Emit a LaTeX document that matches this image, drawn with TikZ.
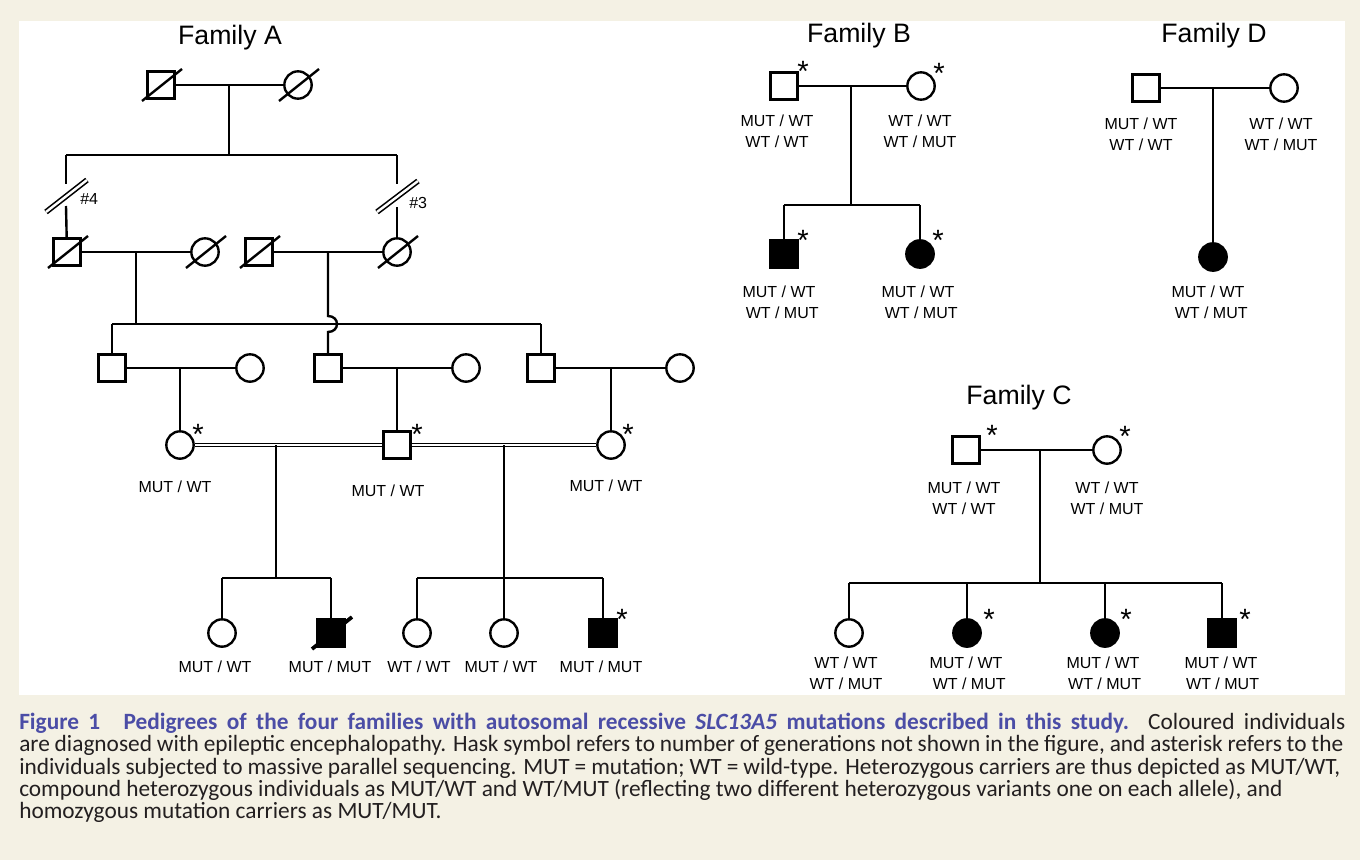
\documentclass[tikz,border=0pt]{standalone}
\usepackage{fontspec}
\setmainfont{Liberation Sans}
\newfontfamily\capfont{Carlito}
\usetikzlibrary{calc}
\definecolor{bgbeige}{HTML}{F4F1E4}
\definecolor{capblue}{HTML}{4B4DA6}
\definecolor{captext}{HTML}{231F20}
\tikzset{
  pbase/.style={draw=black, line width=1.8pt, inner sep=0pt, fill=white},
  male/.style={pbase, rectangle, minimum size=20pt},
  female/.style={pbase, circle, minimum size=20.5pt},
  aff/.style={fill=black},
  conn/.style={line width=1.8pt},
  consang/.style={double, double distance=1.5pt, line width=1.1pt},
  hashmark/.style={double, double distance=1.8pt, line width=1.2pt},
  geno/.style={font=\fontsize{12}{15.75}\selectfont, align=center, inner sep=0pt},
  hlabel/.style={font=\fontsize{12}{14}\selectfont, inner sep=0pt, anchor=west},
  ftitle/.style={font=\fontsize{20}{24}\selectfont, inner sep=0pt},
  ast/.style={font=\fontsize{22}{22}\selectfont, inner sep=0pt, anchor=base, yshift=-13pt},
  capline/.style={font=\capfont\fontsize{17.5}{19}\selectfont, anchor=base west, inner sep=0pt, text=captext},
}
\newcommand{\deceased}[2][1.8pt]{\draw[line width=#1] ($(#2.center)+(-19,16)$) -- ($(#2.center)+(21,-16)$);}
\begin{document}
\begin{tikzpicture}[x=0.75pt, y=-0.75pt]
\useasboundingbox (0,0) rectangle (1360,860);
\fill[bgbeige] (0,0) rectangle (1360,860);
\fill[white] (19,21) rectangle (1345,695);

% ---------------- Family A ----------------
\node[ftitle] (tA) at (230,38) {Family A};
\node[male] (A1) at (161,85) {};
\node[female] (A2) at (298,85) {};
\coordinate (mA1) at (229,85);
\coordinate (sA1) at (229,155);
\coordinate (sA1l) at (66,155);
\coordinate (sA1r) at (397,155);
\draw[conn] (A1) -- (A2);
\draw[conn] (mA1) -- (sA1);
\draw[conn] (sA1l) -- (sA1r);
\deceased{A1}
\deceased{A2}

% hashed lines
\coordinate (h4a) at (66,184); \coordinate (h4b) at (66,206);
\coordinate (h3a) at (397,184); \coordinate (h3b) at (397,207);
\coordinate (h4c1) at (46,212); \coordinate (h4c2) at (87,180);
\coordinate (h3c1) at (377,212); \coordinate (h3c2) at (418,181);
\draw[hashmark] (h4c1) -- (h4c2);
\draw[hashmark] (h3c1) -- (h3c2);
\node[hlabel] (h4t) at (80,199) {\#4};
\node[hlabel] (h3t) at (409,203) {\#3};

% generation II
\node[male] (A3) at (67,252) {};
\node[female] (A4) at (205,252) {};
\node[male] (A5) at (259,252) {};
\node[female] (A6) at (397,252) {};
\draw[conn] (sA1l) -- (h4a);
\draw[conn] (h4b) -- (A3);
\draw[conn] (sA1r) -- (h3a);
\draw[conn] (h3b) -- (A6);
\draw[conn] (A3) -- (A4);
\draw[conn] (A5) -- (A6);
\deceased{A3}
\deceased{A4}
\deceased{A5}
\deceased{A6}

% generation III
\coordinate (mA2) at (136,252);
\coordinate (sA2) at (136,324);
\coordinate (sA2l) at (112,324);
\coordinate (sA2r) at (541,324);
\coordinate (mA3) at (328,252);
\coordinate (hopa) at (328,316);
\coordinate (hopb) at (328,332);
\node[male] (A7) at (112,368) {};
\node[female] (A10) at (250,368) {};
\node[male] (A8) at (328,368) {};
\node[female] (A11) at (466,368) {};
\node[male] (A9) at (541,368) {};
\node[female] (A12) at (680,368) {};
\draw[conn] (mA2) -- (sA2);
\draw[conn] (sA2l) -- (sA2r);
\draw[conn] (sA2l) -- (A7);
\draw[conn] (sA2r) -- (A9);
\draw[conn] (mA3) -- (hopa) .. controls +(12,0) and +(12,0) .. (hopb) -- (A8);
\draw[conn] (A7) -- (A10);
\draw[conn] (A8) -- (A11);
\draw[conn] (A9) -- (A12);

% generation IV
\coordinate (mA4) at (180,368);
\coordinate (mA5) at (397,368);
\coordinate (mA6) at (611,368);
\node[female] (A13) at (180,445) {};
\node[male] (A14) at (397,445) {};
\node[female] (A15) at (611,445) {};
\draw[conn] (mA4) -- (A13);
\draw[conn] (mA5) -- (A14);
\draw[conn] (mA6) -- (A15);
\draw[consang] (A13) -- (A14);
\draw[consang] (A14) -- (A15);
\node[ast] (sA13) at (198,427) {*};
\node[ast] (sA14) at (417,427) {*};
\node[ast] (sA15) at (628,427) {*};
\node[geno] (gA13) at (175,487) {MUT / WT};
\node[geno] (gA14) at (388,491) {MUT / WT};
\node[geno] (gA15) at (606,486) {MUT / WT};

% generation V
\coordinate (mA7) at (276,445);
\coordinate (sA7) at (276,578);
\coordinate (sA7l) at (222,578);
\coordinate (sA7r) at (331,578);
\coordinate (mA8) at (504,445);
\coordinate (sA8l) at (417,578);
\coordinate (sA8r) at (603,578);
\node[female] (A16) at (222,633) {};
\node[male, aff] (A17) at (331,633) {};
\node[female] (A18) at (417,633) {};
\node[female] (A19) at (504,633) {};
\node[male, aff] (A20) at (603,633) {};
\draw[conn] (mA7) -- (sA7);
\draw[conn] (sA7l) -- (sA7r);
\draw[conn] (sA7l) -- (A16);
\draw[conn] (sA7r) -- (A17);
\draw[conn] (sA8l) -- (sA8r);
\draw[conn] (mA8) -- (A19);
\draw[conn] (sA8l) -- (A18);
\draw[conn] (sA8r) -- (A20);
\deceased[2.8pt]{A17}
\node[ast] (sA20) at (622,612) {*};
\node[geno] (gA16) at (215,667) {MUT / WT};
\node[geno] (gA17) at (330,667) {MUT / MUT};
\node[geno] (gA18) at (419,667) {WT / WT};
\node[geno] (gA19) at (501,667) {MUT / WT};
\node[geno] (gA20) at (601,667) {MUT / MUT};

% ---------------- Family B ----------------
\node[ftitle] (tB) at (859,36) {Family B};
\node[male] (B1) at (784,86) {};
\node[female] (B2) at (921,86) {};
\coordinate (mB) at (851,86);
\coordinate (sB) at (851,205);
\coordinate (sBl) at (784,205);
\coordinate (sBr) at (920,205);
\node[male, aff] (B3) at (784,254) {};
\node[female, aff] (B4) at (920,254) {};
\draw[conn] (B1) -- (B2);
\draw[conn] (mB) -- (sB);
\draw[conn] (sBl) -- (sBr);
\draw[conn] (sBl) -- (B3);
\draw[conn] (sBr) -- (B4);
\node[ast] (sB1) at (803,64) {*};
\node[ast] (sB2) at (939,66) {*};
\node[ast] (sB3) at (803,233) {*};
\node[ast] (sB4) at (938,233) {*};
\node[geno] (gB1) at (777,131) {MUT / WT\\WT / WT};
\node[geno] (gB2) at (920,131) {WT / WT\\WT / MUT};
\node[geno] (gB3) at (779,302) {MUT / WT\\\hspace*{0.4em}WT / MUT};
\node[geno] (gB4) at (918,302) {MUT / WT\\\hspace*{0.4em}WT / MUT};

% ---------------- Family D ----------------
\node[ftitle] (tD) at (1214,36) {Family D};
\node[male] (D1) at (1146,88) {};
\node[female] (D2) at (1284,88) {};
\coordinate (mD) at (1213,88);
\node[female, aff] (D3) at (1213,257) {};
\draw[conn] (D1) -- (D2);
\draw[conn] (mD) -- (D3);
\node[geno] (gD1) at (1141,134) {MUT / WT\\WT / WT};
\node[geno] (gD2) at (1281,134) {WT / WT\\WT / MUT};
\node[geno] (gD3) at (1208,302) {MUT / WT\\\hspace*{0.4em}WT / MUT};

% ---------------- Family C ----------------
\node[ftitle] (tC) at (1019,398) {Family C};
\node[male] (C1) at (966,450) {};
\node[female] (C2) at (1107,450) {};
\coordinate (mC) at (1040,450);
\coordinate (sC) at (1040,583);
\coordinate (sCl) at (849,583);
\coordinate (sCr) at (1222,583);
\coordinate (sC4) at (967,583);
\coordinate (sC5) at (1105,583);
\node[female] (C3) at (849,633) {};
\node[female, aff] (C4) at (967,633) {};
\node[female, aff] (C5) at (1105,633) {};
\node[male, aff] (C6) at (1222,633) {};
\draw[conn] (C1) -- (C2);
\draw[conn] (mC) -- (sC);
\draw[conn] (sCl) -- (sCr);
\draw[conn] (sCl) -- (C3);
\draw[conn] (sC4) -- (C4);
\draw[conn] (sC5) -- (C5);
\draw[conn] (sCr) -- (C6);
\node[ast] (sC1) at (992,428) {*};
\node[ast] (sC2) at (1125,429) {*};
\node[ast] (sC4s) at (989,612) {*};
\node[ast] (sC5s) at (1126,612) {*};
\node[ast] (sC6) at (1245,612) {*};
\node[geno] (gC1) at (964,498) {MUT / WT\\WT / WT};
\node[geno] (gC2) at (1107,498) {WT / WT\\WT / MUT};
\node[geno] (gC3) at (846,673) {WT / WT\\WT / MUT};
\node[geno] (gC4) at (966,673) {MUT / WT\\\hspace*{0.4em}WT / MUT};
\node[geno] (gC5) at (1103,673) {MUT / WT\\\hspace*{0.2em}WT / MUT};
\node[geno] (gC6) at (1221,673) {MUT / WT\\\hspace*{0.2em}WT / MUT};

% ---------------- Caption ----------------
\node[capline] (cap1) at (19,729) {\makebox[994.5pt][s]{{\bfseries\color{capblue}Figure 1\quad Pedigrees of the four families with autosomal recessive \textit{SLC13A5} mutations described in this study.} Coloured individuals}};
\node[capline] (cap2) at (19,751.5) {\makebox[993pt][s]{are diagnosed with epileptic encephalopathy. Hask symbol refers to number of generations not shown in the figure, and asterisk refers to the}};
\node[capline] (cap3) at (19,774) {\makebox[990.75pt][s]{individuals subjected to massive parallel sequencing. MUT = mutation; WT = wild-type. Heterozygous carriers are thus depicted as MUT/WT,}};
\node[capline] (cap4) at (19,796) {compound heterozygous individuals as MUT/WT and WT/MUT (reflecting two different heterozygous variants one on each allele), and};
\node[capline] (cap5) at (19,818) {homozygous mutation carriers as MUT/MUT.};
\end{tikzpicture}
\end{document}
